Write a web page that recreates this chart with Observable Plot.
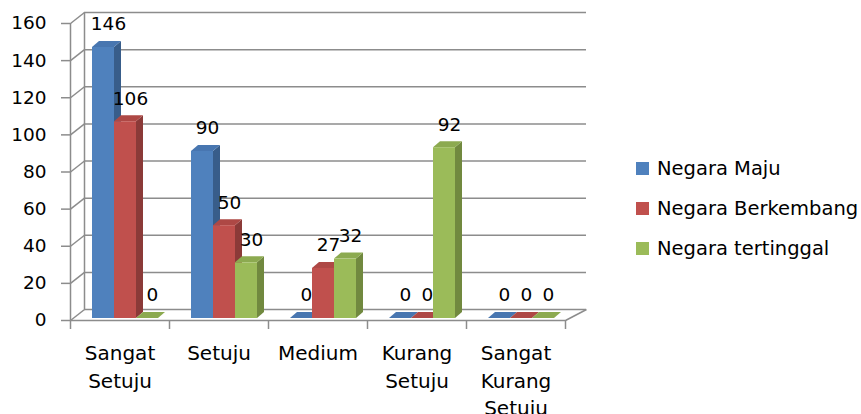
<!DOCTYPE html>
<html>
<head>
<meta charset="utf-8">
<script src="https://cdn.jsdelivr.net/npm/d3@7"></script>
<script src="https://cdn.jsdelivr.net/npm/@observablehq/plot@0.6"></script>
<style>
  html, body { margin: 0; padding: 0; background: #fff; }
  #wrap { position: relative; width: 861px; height: 414px; overflow: hidden; font-family: "DejaVu Sans", sans-serif; }
  #legend { position: absolute; left: 636px; top: 148px; }
  #legend .row { display: flex; align-items: center; height: 40px; font-size: 19.5px; color: #000; white-space: nowrap; }
  #legend .sw { width: 13px; height: 13px; margin-right: 8px; flex: none; }
</style>
</head>
<body>
<div id="wrap"><div id="chart"></div><div id="legend"></div></div>
<script>
// ---- data ----
const categories = ["Sangat Setuju", "Setuju", "Medium", "Kurang Setuju", "Sangat Kurang Setuju"];
const categoryLabels = ["Sangat\nSetuju", "Setuju", "Medium", "Kurang\nSetuju", "Sangat\nKurang\nSetuju"];
const seriesNames = ["Negara Maju", "Negara Berkembang", "Negara tertinggal"];
const negaraMaju = [146, 90, 0, 0, 0];
const negaraBerkembang = [106, 50, 27, 0, 0];
const negaraTertinggal = [0, 30, 32, 92, 0];
const yTicks = [0, 20, 40, 60, 80, 100, 120, 140, 160];

// ---- styling ----
const frontColors = ["#4F81BD", "#C0504D", "#9BBB59"];
const topColors = ["#4876B0", "#AE4845", "#8CAA50"];
const sideColors = ["#385D8A", "#8B3A38", "#71893F"];
const gridColor = "#8c8c8c";

const W = 861, H = 414, ML = 70, MR = 296, MT = 23, MB = 94;
const ux = px => px / ((W - ML - MR) / categories.length);
const uy = px => px / ((H - MT - MB) / 160);

const seriesValues = [negaraMaju, negaraBerkembang, negaraTertinggal];
const rows = [];
seriesValues.forEach((vals, s) => {
  vals.forEach((v, i) => {
    rows.push({
      id: s + "-" + i, s, i, v,
      x1: i + (2 + 2 * s) / 9,
      x2: i + (4 + 2 * s) / 9,
      front: frontColors[s], top: topColors[s], side: sideColors[s]
    });
  });
});

const bdx = ux(7), bdy = uy(6);
const sidePts = rows.flatMap(r => [
  {id: r.id, x: r.x2, y1: 0, y2: r.v, fill: r.side},
  {id: r.id, x: r.x2 + bdx, y1: bdy, y2: r.v + bdy, fill: r.side}
]);
const topPts = rows.flatMap(r => [
  {id: r.id, y: r.v, x1: r.x1, x2: r.x2, fill: r.top},
  {id: r.id, y: r.v + bdy, x1: r.x1 + bdx, x2: r.x2 + bdx, fill: r.top}
]);

const wallDxL = ux(14), wallDxR = ux(21), wallDy = uy(11);
const xTicks = d3.range(categories.length + 1);

const chart = Plot.plot({
  width: W, height: H,
  marginLeft: ML, marginRight: MR, marginTop: MT, marginBottom: MB,
  x: {type: "linear", domain: [0, categories.length], axis: null},
  y: {domain: [0, 160], axis: null},
  color: {type: "identity"},
  style: {fontFamily: "DejaVu Sans, sans-serif", fontSize: "18px", background: "white", color: "#000", overflow: "visible"},
  marks: [
    // back wall gridlines
    Plot.ruleY(yTicks, {y: d => d, x1: wallDxL, x2: categories.length + wallDxR, dy: -11, stroke: gridColor, strokeWidth: 1.5}),
    // back wall left edge
    Plot.ruleX([wallDxL], {x: d => d, y1: 0, y2: 160, dy: -11, stroke: gridColor, strokeWidth: 1.5}),
    // side-wall diagonals
    Plot.link(yTicks, {x1: 0, y1: d => d, x2: wallDxL, y2: d => d + wallDy, stroke: gridColor, strokeWidth: 1.5}),
    // floor front edge and right diagonal
    Plot.ruleY([0], {y: d => d, x1: 0, x2: categories.length, stroke: gridColor, strokeWidth: 1.5}),
    Plot.link([0], {x1: categories.length, y1: 0, x2: categories.length + wallDxR, y2: wallDy, stroke: gridColor, strokeWidth: 1.5}),
    // front vertical axis
    Plot.ruleX([0], {x: d => d, y1: 0, y2: 160, stroke: gridColor, strokeWidth: 1.5}),
    // y ticks
    Plot.ruleY(yTicks, {y: d => d, x1: 0, x2: -ux(9), stroke: gridColor, strokeWidth: 1.5}),
    // x ticks (band boundaries)
    Plot.ruleX(xTicks, {x: d => d, y1: 0, y2: -uy(9), stroke: gridColor, strokeWidth: 1.5}),
    // bars: sides, tops, fronts
    Plot.areaY(sidePts, {x: "x", y1: "y1", y2: "y2", z: "id", fill: "fill", dy: -2}),
    Plot.areaX(topPts, {y: "y", x1: "x1", x2: "x2", z: "id", fill: "fill", dy: -2}),
    Plot.rect(rows, {x1: "x1", x2: "x2", y1: 0, y2: "v", fill: "front", dy: -2}),
    // value labels
    Plot.text(rows, {x: r => (r.x1 + r.x2) / 2, y: "v", text: r => String(r.v), dx: 5, dy: -25, fontSize: 18.5, fill: "#000"}),
    // y tick labels
    Plot.text(yTicks, {x: 0, y: d => d, text: d => String(d), textAnchor: "end", dx: -24, fontSize: 18.5, fill: "#000"}),
    // category labels
    Plot.text(categoryLabels, {x: (d, i) => i + 0.5, y: 0, text: d => d, lineAnchor: "top", lineHeight: 1.38, dy: 20, fontSize: 20, fill: "#000"})
  ]
});
document.getElementById("chart").appendChild(chart);

// legend
const legend = document.getElementById("legend");
seriesNames.forEach((name, s) => {
  const row = document.createElement("div");
  row.className = "row";
  const sw = document.createElement("span");
  sw.className = "sw";
  sw.style.background = frontColors[s];
  const t = document.createElement("span");
  t.textContent = name;
  row.appendChild(sw);
  row.appendChild(t);
  legend.appendChild(row);
});
</script>
</body>
</html>
